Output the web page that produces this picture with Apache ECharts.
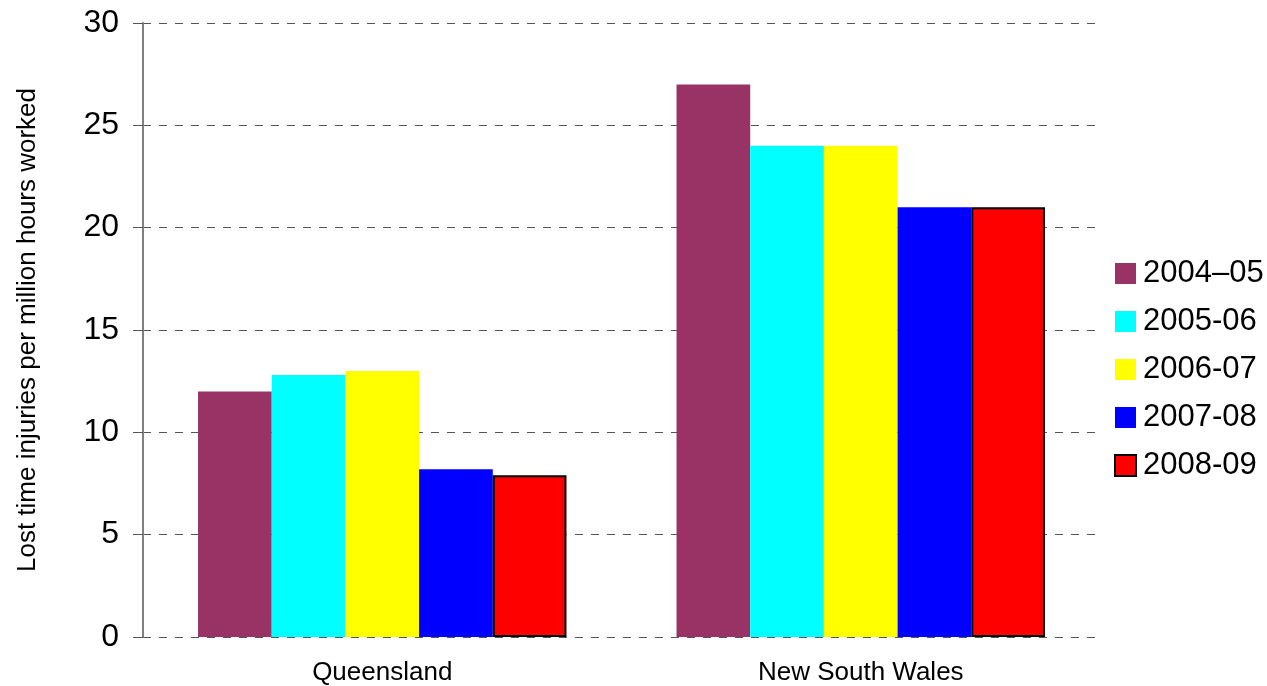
<!DOCTYPE html>
<html>
<head>
<meta charset="utf-8">
<script src="https://cdn.jsdelivr.net/npm/echarts@6/dist/echarts.min.js"></script>
<style>
  html, body { margin: 0; padding: 0; background: #fff; }
  #main { width: 1267px; height: 686px; }
</style>
</head>
<body>
<div id="main"></div>
<script>
// 数据
var states = ['Queensland', 'New South Wales'];
var years = ['2004\u201305', '2005-06', '2006-07', '2007-08', '2008-09'];
var v0405 = [12, 27];
var v0506 = [12.8, 24];
var v0607 = [13, 24];
var v0708 = [8.2, 21];
var v0809 = [7.9, 21];
var yTicks = [0, 5, 10, 15, 20, 25, 30];

var colors = ['#993366', '#00FFFF', '#FFFF00', '#0000FF', '#FF0000'];
var values = [v0405, v0506, v0607, v0708, v0809];

var series = [];
for (var i = 0; i < years.length; i++) {
  var s = {
    name: years[i],
    type: 'bar',
    data: values[i],
    barGap: '0%',
    barCategoryGap: '23%',
    itemStyle: { color: colors[i] }
  };
  if (i == 4) {
    s.itemStyle.borderColor = '#000';
    s.itemStyle.borderWidth = 2;
  }
  series.push(s);
}

var myChart = echarts.init(document.getElementById('main'));
var option = {
  animation: false,
  textStyle: { fontFamily: 'Liberation Sans, Arial, sans-serif' },
  grid: { left: 143, right: 167, top: 23, bottom: 49, containLabel: false },
  legend: {
    orient: 'vertical',
    left: 1109,
    top: 253,
    icon: 'rect',
    itemWidth: 21,
    itemHeight: 21,
    itemGap: 17,
    data: years,
    textStyle: { fontSize: 31, lineHeight: 30, color: '#000', padding: [0, 0, 0, 2] }
  },
  xAxis: {
    type: 'category',
    data: states,
    axisLine: { show: false },
    axisTick: { show: false },
    axisLabel: { fontSize: 26, color: '#000', margin: 23 }
  },
  yAxis: {
    type: 'value',
    min: yTicks[0],
    max: yTicks[yTicks.length - 1],
    interval: 5,
    name: 'Lost time injuries per million hours worked',
    nameLocation: 'middle',
    nameGap: 102,
    nameTextStyle: { fontSize: 26, color: '#000' },
    axisLine: { show: true, lineStyle: { color: '#808080', width: 2 } },
    axisTick: { show: true, inside: false, length: 10, lineStyle: { color: '#555', width: 1 } },
    axisLabel: { fontSize: 32, color: '#000', margin: 24 },
    splitLine: { show: true, lineStyle: { color: '#555', type: [8, 8], width: 1 } }
  },
  series: series
};
myChart.setOption(option);
</script>
</body>
</html>
